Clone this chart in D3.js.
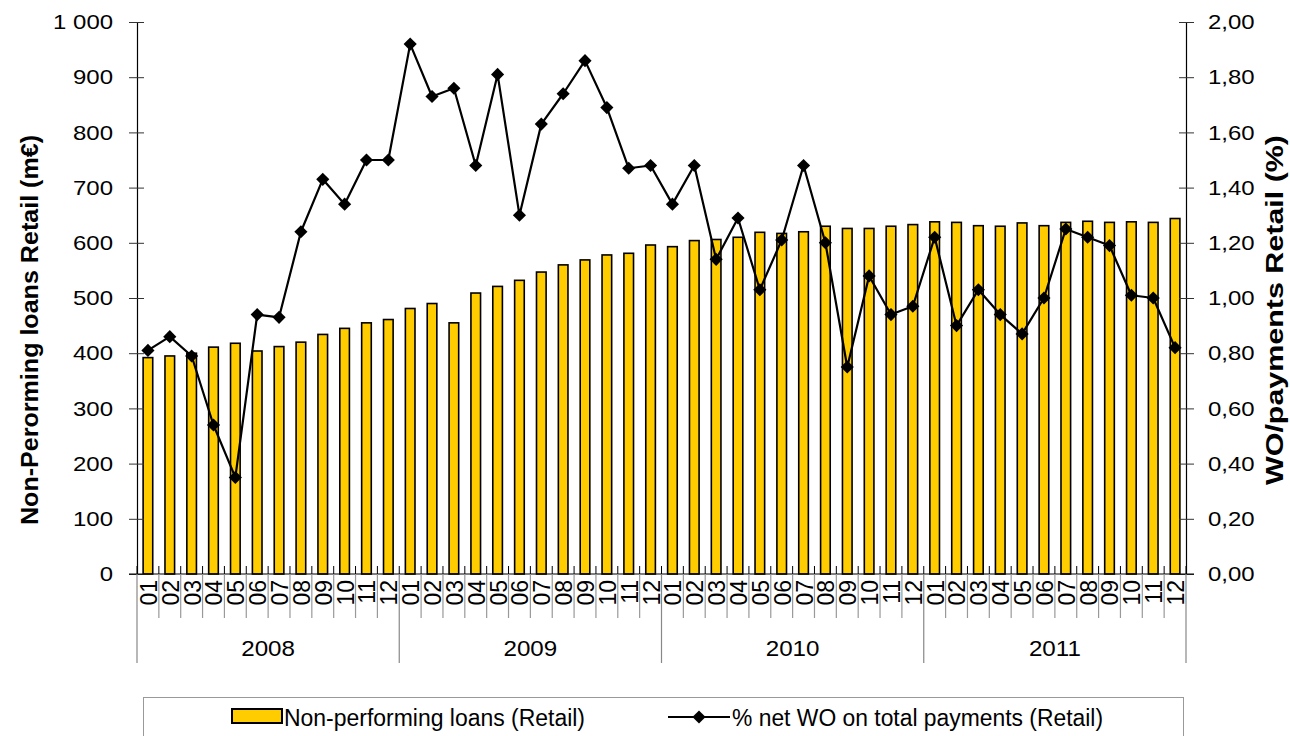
<!DOCTYPE html>
<html>
<head>
<meta charset="utf-8">
<script src="https://cdn.jsdelivr.net/npm/d3@7"></script>
<style>
  html, body { margin: 0; padding: 0; background: #fff; }
  svg { display: block; font-family: "Liberation Sans", Arial, sans-serif; }
</style>
</head>
<body>
<svg id="chart" width="1290" height="736"></svg>
<script>
// Monthly retail figures, 2008-2011
const years = ["2008", "2009", "2010", "2011"];
const months = ["01", "02", "03", "04", "05", "06", "07", "08", "09", "10", "11", "12"];

// Non-performing loans (Retail), m€
const nplValues = [
  392, 395, 400, 411, 418, 404, 412, 420, 434, 445, 455, 461,
  481, 490, 455, 509, 521, 532, 547, 560, 569, 578, 581, 596,
  593, 604, 606, 610, 619, 617, 620, 630, 626, 626, 630, 633,
  638, 637, 631, 630, 636, 631, 637, 639, 637, 638, 637, 644
];

// % net write-offs on total payments (Retail)
const woValues = [
  0.81, 0.86, 0.79, 0.54, 0.35, 0.94, 0.93, 1.24, 1.43, 1.34, 1.50, 1.50,
  1.92, 1.73, 1.76, 1.48, 1.81, 1.30, 1.63, 1.74, 1.86, 1.69, 1.47, 1.48,
  1.34, 1.48, 1.14, 1.29, 1.03, 1.21, 1.48, 1.20, 0.75, 1.08, 0.94, 0.97,
  1.22, 0.90, 1.03, 0.94, 0.87, 1.00, 1.25, 1.22, 1.19, 1.01, 1.00, 0.82
];

const leftTicks = [0, 100, 200, 300, 400, 500, 600, 700, 800, 900, 1000];
const rightTicks = [0, 0.2, 0.4, 0.6, 0.8, 1.0, 1.2, 1.4, 1.6, 1.8, 2.0];

const leftTitle = "Non-Perorming loans Retail (m€)";
const rightTitle = "WO/payments Retail (%)";
const legendBars = "Non-performing loans (Retail)";
const legendLine = "% net WO on total payments (Retail)";

// Build the category table (year + month) from the arrays above
const rows = [];
years.forEach(y => months.forEach(m => rows.push({ key: y + "-" + m, year: y, month: m })));
rows.forEach((r, i) => { r.npl = nplValues[i]; r.wo = woValues[i]; });

const plot = { left: 137, right: 1186, top: 22, bottom: 574 };
const BAR_FILL = "#FFCC00";

const locale = d3.formatLocale({ decimal: ",", thousands: " ", grouping: [3], currency: ["", ""] });
const fmtLeft = locale.format(",d");
const fmtRight = locale.format(".2f");

const svg = d3.select("#chart");

const x = d3.scaleBand().domain(rows.map(r => r.key)).range([plot.left, plot.right]).padding(0);
const yL = d3.scaleLinear().domain([0, 1000]).range([plot.bottom, plot.top]);
const yR = d3.scaleLinear().domain([0, 2]).range([plot.bottom, plot.top]);
const barW = x.bandwidth() * 0.44;
const cx = k => x(k) + x.bandwidth() / 2;

// stretch text horizontally along its own run
function widen(sel, k) {
  sel.each(function () {
    const w = this.getComputedTextLength();
    this.setAttribute("textLength", (w * k).toFixed(1));
    this.setAttribute("lengthAdjust", "spacingAndGlyphs");
  });
}

// Bars
svg.append("g").selectAll("rect").data(rows).join("rect")
  .attr("x", d => cx(d.key) - barW / 2)
  .attr("y", d => yL(d.npl))
  .attr("width", barW)
  .attr("height", d => yL(0) - yL(d.npl))
  .attr("fill", BAR_FILL)
  .attr("stroke", "#000")
  .attr("stroke-width", 1.6);

// Left axis
const gL = svg.append("g").attr("transform", `translate(${plot.left},0)`)
  .call(d3.axisLeft(yL).tickValues(leftTicks).tickFormat(fmtLeft).tickSizeInner(8).tickSizeOuter(0).tickPadding(16));
gL.select(".domain").attr("stroke", "#000").attr("stroke-width", 1.2);
gL.selectAll(".tick line").attr("x2", 7).attr("x1", -8).attr("stroke", "#333");
gL.selectAll(".tick text").attr("font-size", 21).attr("fill", "#000").attr("x", -24).call(widen, 1.14);

// Right axis
const gR = svg.append("g").attr("transform", `translate(${plot.right},0)`)
  .call(d3.axisRight(yR).tickValues(rightTicks).tickFormat(fmtRight).tickSizeInner(8).tickSizeOuter(0).tickPadding(16));
gR.select(".domain").attr("stroke", "#000").attr("stroke-width", 1.2);
gR.selectAll(".tick line").attr("x1", -7).attr("x2", 8).attr("stroke", "#333");
gR.selectAll(".tick text").attr("font-size", 21).attr("fill", "#000").attr("x", 22).call(widen, 1.14);

// Category axis: baseline, inner ticks, separators and labels
const gX = svg.append("g");
gX.append("line").attr("x1", plot.left - 8).attr("x2", plot.right + 8)
  .attr("y1", plot.bottom).attr("y2", plot.bottom).attr("stroke", "#000").attr("stroke-width", 1.2);
const bounds = rows.map(r => x(r.key)).concat([plot.right]);
gX.selectAll("line.tk").data(bounds).join("line").attr("class", "tk")
  .attr("x1", d => d).attr("x2", d => d).attr("y1", plot.bottom - 8).attr("y2", plot.bottom)
  .attr("stroke", "#000").attr("stroke-width", 1);
gX.selectAll("line.sep").data(bounds).join("line").attr("class", "sep")
  .attr("x1", d => d).attr("x2", d => d).attr("y1", plot.bottom)
  .attr("y2", (d, i) => (i % 12 === 0 ? 663 : 618))
  .attr("stroke", (d, i) => (i % 12 === 0 ? "#888" : "#999")).attr("stroke-width", 1.2);
gX.selectAll("text.mon").data(rows).join("text").attr("class", "mon")
  .attr("transform", d => `translate(${cx(d.key)},580) rotate(-90) scale(1,1.08)`)
  .attr("text-anchor", "end").attr("dy", "0.36em")
  .attr("font-size", 23).attr("fill", "#000").text(d => d.month);
gX.selectAll("text.yr").data(years).join("text").attr("class", "yr")
  .attr("x", y => (x(y + "-01") + x(y + "-12") + x.bandwidth()) / 2)
  .attr("y", 656).attr("text-anchor", "middle").attr("font-size", 22).attr("fill", "#000")
  .text(y => y).call(widen, 1.1);

// Write-off line with diamond markers
const line = d3.line().x(d => cx(d.key)).y(d => yR(d.wo));
svg.append("path").datum(rows).attr("d", line)
  .attr("fill", "none").attr("stroke", "#000").attr("stroke-width", 2.2).attr("stroke-linejoin", "round");
const diamond = d3.symbol().type(d3.symbolDiamond2).size(110);
svg.append("g").selectAll("path").data(rows).join("path")
  .attr("transform", d => `translate(${cx(d.key)},${yR(d.wo)})`)
  .attr("d", diamond).attr("fill", "#000");

// Axis titles
svg.append("text").attr("transform", "translate(38,330) rotate(-90)")
  .attr("text-anchor", "middle").attr("font-size", 24).attr("font-weight", "bold")
  .attr("textLength", 390).attr("lengthAdjust", "spacingAndGlyphs").text(leftTitle);
svg.append("text").attr("transform", "translate(1283,310) rotate(-90)")
  .attr("text-anchor", "middle").attr("font-size", 24).attr("font-weight", "bold")
  .attr("textLength", 350).attr("lengthAdjust", "spacingAndGlyphs").text(rightTitle);

// Legend
const lg = svg.append("g");
lg.append("rect").attr("x", 143.5).attr("y", 697.5).attr("width", 1040).attr("height", 50)
  .attr("fill", "#fff").attr("stroke", "#999").attr("stroke-width", 1);
lg.append("rect").attr("x", 232).attr("y", 709).attr("width", 50).attr("height", 14)
  .attr("fill", BAR_FILL).attr("stroke", "#000").attr("stroke-width", 2);
lg.append("text").attr("x", 284).attr("y", 726).attr("font-size", 23).attr("fill", "#000")
  .attr("textLength", 301).attr("lengthAdjust", "spacingAndGlyphs").text(legendBars);
lg.append("line").attr("x1", 668).attr("x2", 730).attr("y1", 717).attr("y2", 717)
  .attr("stroke", "#000").attr("stroke-width", 2.2);
lg.append("path").attr("transform", "translate(699,717)").attr("d", diamond).attr("fill", "#000");
lg.append("text").attr("x", 732).attr("y", 726).attr("font-size", 23).attr("fill", "#000")
  .attr("textLength", 371).attr("lengthAdjust", "spacingAndGlyphs").text(legendLine);
</script>
</body>
</html>
